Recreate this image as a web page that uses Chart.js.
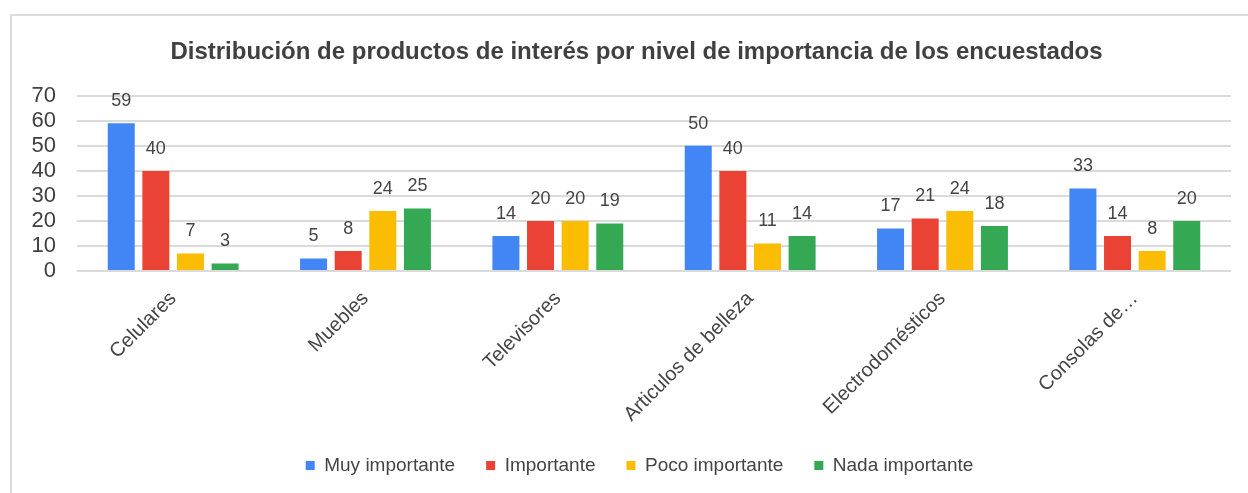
<!DOCTYPE html>
<html lang="es">
<head>
<meta charset="utf-8">
<title>Distribución de productos de interés</title>
<script src="https://cdn.jsdelivr.net/npm/chart.js@4/dist/chart.umd.min.js"></script>
<style>
    html, body { margin: 0; padding: 0; background: #ffffff; }
    #wrap { position: relative; width: 1248px; height: 493px; overflow: hidden; }
    #marco {
        position: absolute; left: 10px; top: 14px; width: 1250px; height: 490px;
        border: 2px solid #dcdcdc; box-sizing: border-box;
    }
    #grafico { position: absolute; left: 0; top: 0; }
</style>
</head>
<body>
<div id="wrap">
    <div id="marco"></div>
    <canvas id="grafico" width="1248" height="493"></canvas>
</div>
<script>
const categorias = ['Celulares', 'Muebles', 'Televisores', 'Articulos de belleza', 'Electrodomésticos', 'Consolas de…'];
const niveles = ['Muy importante', 'Importante', 'Poco importante', 'Nada importante'];

const muyImportante = [59, 5, 14, 50, 17, 33];
const importante = [40, 8, 20, 40, 21, 14];
const pocoImportante = [7, 24, 20, 11, 24, 8];
const nadaImportante = [3, 25, 19, 14, 18, 20];

const colores = ['#4285F4', '#EA4335', '#FBBC04', '#34A853'];
const fuente = "'Liberation Sans', Arial, sans-serif";

// escribe el valor encima de cada barra
const etiquetasValor = {
    id: 'etiquetasValor',
    afterDatasetsDraw(chart) {
        const ctx = chart.ctx;
        ctx.save();
        ctx.font = '18px ' + fuente;
        ctx.fillStyle = '#444444';
        ctx.textAlign = 'center';
        ctx.textBaseline = 'middle';
        chart.data.datasets.forEach((ds, i) => {
            chart.getDatasetMeta(i).data.forEach((barra, j) => {
                ctx.fillText(ds.data[j], barra.x, barra.y - 22);
            });
        });
        ctx.restore();
    }
};

// centra título y leyenda sobre todo el marco, no solo hasta el padding derecho
const centrarCajas = {
    id: 'centrarCajas',
    afterLayout(chart) {
        chart.titleBlock.left += 21;
        chart.titleBlock.right += 21;
        chart.legend.left += 24;
        chart.legend.right += 24;
    }
};

const series = [muyImportante, importante, pocoImportante, nadaImportante];

new Chart(document.getElementById('grafico').getContext('2d'), {
    type: 'bar',
    data: {
        labels: categorias,
        datasets: series.map((valores, i) => ({
            label: niveles[i],
            data: valores,
            backgroundColor: colores[i],
            borderWidth: 0,
            categoryPercentage: 0.72,
            barPercentage: 0.78
        }))
    },
    options: {
        responsive: false,
        animation: false,
        layout: { padding: { left: 0, right: 17, top: 0, bottom: 8 } },
        plugins: {
            title: {
                display: true,
                text: 'Distribución de productos de interés por nivel de importancia de los encuestados',
                color: '#404040',
                font: { family: fuente, size: 24, weight: 'bold' },
                padding: { top: 38, bottom: 29 }
            },
            legend: {
                position: 'bottom',
                labels: {
                    color: '#444444',
                    font: { family: fuente, size: 19 },
                    boxWidth: 9,
                    boxHeight: 9,
                    padding: 31
                }
            },
            tooltip: { enabled: false }
        },
        scales: {
            x: {
                grid: { display: false },
                border: { display: false },
                ticks: {
                    color: '#444444',
                    font: { family: fuente, size: 20 },
                    minRotation: 45,
                    maxRotation: 45,
                    padding: 8
                },
                afterFit(scale) { scale.height = 154; }
            },
            y: {
                min: 0,
                max: 70,
                border: { display: false },
                grid: { color: '#dadada', lineWidth: 2, drawTicks: false },
                ticks: {
                    stepSize: 10,
                    autoSkip: false,
                    color: '#404040',
                    font: { family: fuente, size: 22 },
                    padding: 21
                },
                afterFit(scale) { scale.width = 77; }
            }
        }
    },
    plugins: [etiquetasValor, centrarCajas]
});
</script>
</body>
</html>
